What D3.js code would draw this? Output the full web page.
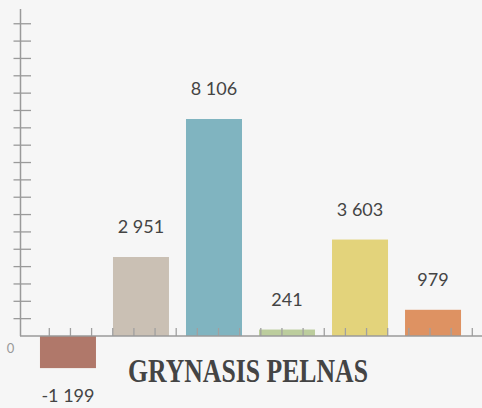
<!DOCTYPE html>
<html>
<head>
<meta charset="utf-8">
<script src="https://cdn.jsdelivr.net/npm/d3@7"></script>
<style>
  body { margin: 0; background: #f6f6f6; }
  svg { display: block; }
</style>
</head>
<body>
<svg id="chart" width="482" height="408"></svg>
<script>
// Chart data
const categories = ["A", "B", "C", "D", "E", "F"];
const values = [-1199, 2951, 8106, 241, 3603, 979];
const barColors = ["#b0786a", "#cac0b4", "#80b4c0", "#bccd9d", "#e3d37b", "#de9262"];
const title = "GRYNASIS PELNAS";
const zeroLabel = "0";

const width = 482, height = 408;
const baseY = 336;

const svg = d3.select("#chart");

// number format with space as thousands separator
const fmt = d3.formatLocale({ decimal: ",", thousands: " ", grouping: [3], currency: ["", ""], minus: "-" }).format(",d");

// Scales
const x = d3.scaleBand()
    .domain(categories)
    .range([31.5, 469.5])
    .paddingInner(0.233)
    .paddingOuter(0.116);

const y = d3.scaleLinear()
    .domain([0, 8106])
    .range([baseY, 119]);

// Bars
svg.selectAll(".bar")
    .data(values)
    .enter().append("rect")
    .attr("class", "bar")
    .attr("x", (d, i) => x(categories[i]))
    .attr("width", x.bandwidth())
    .attr("y", d => d >= 0 ? y(d) : y(0))
    .attr("height", d => Math.abs(y(d) - y(0)))
    .attr("fill", (d, i) => barColors[i]);

// decorative y ticks
const yStep = 648;
const yTicks = d3.range(1, 19).map(i => i * yStep);

const yAxisG = svg.append("g").attr("transform", "translate(20.5,0)");
yAxisG.append("line")
    .attr("x1", 0).attr("x2", 0)
    .attr("y1", 9).attr("y2", baseY)
    .attr("stroke", "#9a9a9a").attr("stroke-width", 1.5);
yAxisG.selectAll(".ytick")
    .data(yTicks)
    .enter().append("line")
    .attr("class", "ytick")
    .attr("x1", -7).attr("x2", 10.5)
    .attr("y1", d => y(d)).attr("y2", d => y(d))
    .attr("stroke", "#9a9a9a").attr("stroke-width", 1.3);

// decorative x ticks (drawn over the bars)
const xt = d3.scaleLinear().domain([0, 20]).range([49.3, 472.3]);
const xAxisG = svg.append("g");
xAxisG.selectAll(".xtick")
    .data(d3.range(21))
    .enter().append("line")
    .attr("class", "xtick")
    .attr("x1", d => xt(d)).attr("x2", d => xt(d))
    .attr("y1", baseY - 8).attr("y2", baseY)
    .attr("stroke", "#a0a0a0").attr("stroke-width", 1.3);

// x axis line
xAxisG.append("line")
    .attr("x1", 20).attr("x2", width)
    .attr("y1", baseY).attr("y2", baseY)
    .attr("stroke", "#9a9a9a").attr("stroke-width", 1.5);

// Value labels
svg.selectAll(".label")
    .data(values)
    .enter().append("text")
    .attr("class", "label")
    .attr("x", (d, i) => x(categories[i]) + x.bandwidth() / 2)
    .attr("y", d => d >= 0 ? y(d) - 24 : y(d) + 34)
    .attr("text-anchor", "middle")
    .attr("fill", "#444")
    .style("font-family", "Lato, 'Open Sans', sans-serif")
    .style("font-size", "18px")
    .text(d => fmt(d));

// zero label
svg.append("text")
    .attr("x", 10.5).attr("y", 353)
    .attr("text-anchor", "middle")
    .attr("fill", "#999")
    .style("font-family", "Lato, sans-serif")
    .style("font-size", "13px")
    .text(zeroLabel);

// Title
svg.append("text")
    .attr("x", 248).attr("y", 381.5)
    .attr("text-anchor", "middle")
    .attr("fill", "#444")
    .attr("textLength", 240)
    .attr("lengthAdjust", "spacingAndGlyphs")
    .style("font-family", "'Liberation Serif', 'DejaVu Serif', serif")
    .style("font-weight", "bold")
    .style("font-size", "33px")
    .text(title);
</script>
</body>
</html>
